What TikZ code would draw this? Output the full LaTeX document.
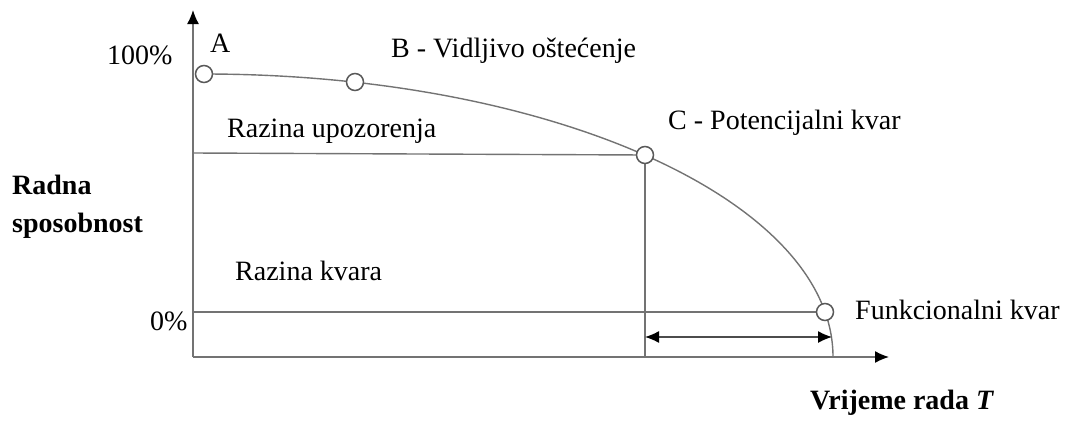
\documentclass[tikz,border=0pt]{standalone}
\usepackage{fontspec}
\setmainfont{Liberation Serif}
\usetikzlibrary{arrows.meta}
\begin{document}
\begin{tikzpicture}[x=1pt,y=-1pt,
  >={Latex[length=14pt,width=12pt,fill=black,color=black]},
  ln/.style={draw=black!55,line width=1.4pt},
  pt/.style={circle,draw=black!65,line width=1.5pt,fill=white,minimum size=17pt,inner sep=0pt},
  lbl/.style={anchor=base west,inner sep=0pt,font=\fontsize{28}{32}\selectfont},
  blbl/.style={lbl,font=\fontsize{28}{32}\selectfont\bfseries}]
\useasboundingbox (0,0) rectangle (1076,421);
% axes
\coordinate (O) at (193,357);
\coordinate (Ytop) at (193,10);
\coordinate (Xend) at (889,357);
\draw[ln,->] (O) -- (Ytop);
\draw[ln,->] (O) -- (Xend);
% points on the curve (quarter ellipse centred at (204,357), radii 629 x 283)
\coordinate (Ac) at (204,74);
\coordinate (Bc) at (355,82);
\coordinate (Cc) at (645,155);
\coordinate (Dc) at (825,312);
% levels
\coordinate (Wl) at (193,153);
\coordinate (Fl) at (193,312);
\draw[ln] (Wl) -- (Cc);
\draw[ln] (Fl) -- (Dc);
\draw[ln] (Cc) -- (Cc |- O);
% curve
\draw[ln] (Ac) arc[start angle=-90, end angle=0, x radius=629, y radius=283];
% interval arrow
\coordinate (I1) at (645,337);
\coordinate (I2) at (832,337);
\draw[draw=black!70,line width=1.3pt,<->] (I1) -- (I2);
% circles
\node[pt] (A) at (Ac) {};
\node[pt] (B) at (Bc) {};
\node[pt] (C) at (Cc) {};
\node[pt] (D) at (Dc) {};
% labels
\node[lbl] (l100) at (107,64) {100\%};
\node[lbl] (l0) at (150,330) {0\%};
\node[lbl] (lA) at (210,52) {A};
\node[lbl] (lB) at (391,57) {B - Vidljivo oštećenje};
\node[lbl] (lC) at (668,129) {C - Potencijalni kvar};
\node[lbl] (lW) at (227,137) {Razina upozorenja};
\node[lbl] (lK) at (235,280) {Razina kvara};
\node[lbl] (lF) at (855,319) {Funkcionalni kvar};
\node[blbl] (lR1) at (12,194) {Radna};
\node[blbl] (lR2) at (12,232) {sposobnost};
\node[blbl] (lT) at (810,409) {Vrijeme rada \textit{T}};
\end{tikzpicture}
\end{document}
